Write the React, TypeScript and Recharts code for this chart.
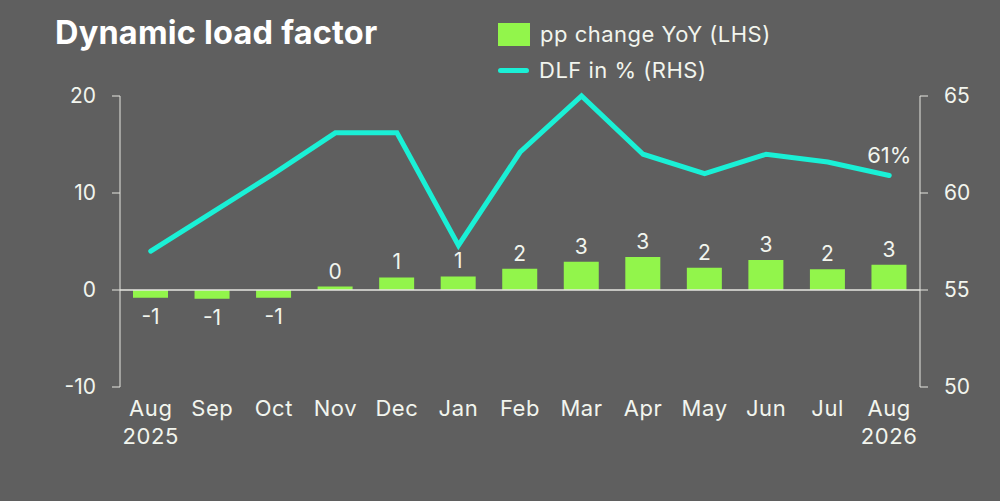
import React from 'react'
import {
  ComposedChart,
  Bar,
  Line,
  XAxis,
  YAxis,
  ReferenceLine,
  LabelList,
  Legend,
} from 'recharts'

const months = ['Aug 2025', 'Sep', 'Oct', 'Nov', 'Dec', 'Jan', 'Feb', 'Mar', 'Apr', 'May', 'Jun', 'Jul', 'Aug 2026']
const ppChange = [-0.8, -0.9, -0.8, 0.35, 1.3, 1.4, 2.2, 2.9, 3.4, 2.3, 3.1, 2.15, 2.6]
const dlf = [57.0, 59.0, 61.0, 63.1, 63.1, 57.3, 62.1, 65.0, 62.0, 61.0, 62.0, 61.6, 60.9]
const leftTicks = [-10, 0, 10, 20]
const rightTicks = [50, 55, 60, 65]

const BG = '#5f5f5f'
const GREEN = '#92f54b'
const TEAL = '#1af0d6'
const TEXT = '#f2f5ee'
const AXIS = '#e6e6e0'
const FONT = 'Inter, "Open Sans", sans-serif'

const data = months.map((m, i) => ({ month: m, pp: ppChange[i], dlf: dlf[i] }))

// eslint-disable-next-line @typescript-eslint/no-explicit-any
const MonthTick = ({ x, y, payload }: any) => {
  const [mon, year] = String(payload.value).split(' ')
  return (
    <text x={x} y={y} textAnchor="middle" fill={TEXT} fontSize={22} letterSpacing={0.6} fontFamily={FONT}>
      <tspan x={x} dy={29}>{mon}</tspan>
      {year && <tspan x={x} dy={28}>{year}</tspan>}
    </text>
  )
}

// eslint-disable-next-line @typescript-eslint/no-explicit-any
const BarLabel = ({ x, y, width, height, value }: any) => {
  const cx = x + width / 2
  const neg = value < 0
  const top = Math.min(y, y + height)
  const bottom = Math.max(y, y + height)
  return (
    <text
      x={cx}
      y={neg ? bottom + 26 : top - 8}
      textAnchor="middle"
      fill={TEXT}
      fontSize={21}
      fontFamily={FONT}
    >
      {Math.round(value)}
    </text>
  )
}

// eslint-disable-next-line @typescript-eslint/no-explicit-any
const LastLabel = ({ x, y, index, value }: any) => {
  if (index !== dlf.length - 1) return null
  return (
    <text x={x} y={y - 13} textAnchor="middle" fill={TEXT} fontSize={22} fontFamily={FONT}>
      {Math.round(value)}%
    </text>
  )
}

// bar entry first, then the line
// eslint-disable-next-line @typescript-eslint/no-explicit-any
const LegendBox = ({ payload }: any) => {
  // eslint-disable-next-line @typescript-eslint/no-explicit-any
  const items = [...(payload || [])].sort((a: any, b: any) => (a.type === 'line' ? 1 : 0) - (b.type === 'line' ? 1 : 0))
  return (
    <div style={{ fontFamily: FONT, fontSize: 22, letterSpacing: 0.5, color: TEXT }}>
      {/* eslint-disable-next-line @typescript-eslint/no-explicit-any */}
      {items.map((p: any, i: number) => (
        <div key={i} style={{ display: 'flex', alignItems: 'center', height: 36 }}>
          {p.type === 'line' ? (
            <span style={{ width: 31, height: 5, borderRadius: 3, background: p.color, marginRight: 10 }} />
          ) : (
            <span style={{ width: 32, height: 23, background: p.color, marginRight: 10 }} />
          )}
          <span>{p.value}</span>
        </div>
      ))}
    </div>
  )
}

export default function App() {
  return (
    <div
      style={{
        position: 'absolute',
        top: 0,
        left: 0,
        width: 1000,
        height: 501,
        background: BG,
        overflow: 'hidden',
      }}
    >
      <div
        style={{
          position: 'absolute',
          left: 55,
          top: 13,
          fontFamily: FONT,
          fontWeight: 700,
          fontSize: 32.5,
          color: '#ffffff',
          letterSpacing: 0.2,
          zIndex: 2,
        }}
      >
        Dynamic load factor
      </div>
      <ComposedChart
        width={1000}
        height={501}
        data={data}
        margin={{ top: 96, right: 0, bottom: 0, left: 0 }}
        barCategoryGap={0}
      >
        <XAxis
          dataKey="month"
          axisLine={false}
          tickLine={false}
          tickSize={0}
          tickMargin={0}
          height={114}
          interval={0}
          tick={<MonthTick />}
        />
        <YAxis
          yAxisId="left"
          orientation="left"
          width={120}
          domain={[-10, 20]}
          ticks={leftTicks}
          interval={0}
          stroke={AXIS}
          tickSize={8}
          tickMargin={16}
          tick={{ fill: TEXT, fontSize: 21, fontFamily: FONT }}
        />
        <YAxis
          yAxisId="right"
          orientation="right"
          width={80}
          domain={[50, 65]}
          ticks={rightTicks}
          interval={0}
          stroke={AXIS}
          tickSize={8}
          tickMargin={16}
          tick={{ fill: TEXT, fontSize: 21, fontFamily: FONT }}
        />
        <ReferenceLine yAxisId="left" y={0} stroke={AXIS} strokeWidth={1.5} />
        <Legend
          layout="vertical"
          align="center"
          verticalAlign="middle"
          wrapperStyle={{ left: 498, top: 16, width: 340 }}
          content={<LegendBox />}
        />
        <Bar
          yAxisId="left"
          dataKey="pp"
          name="pp change YoY (LHS)"
          fill={GREEN}
          barSize={35}
          legendType="rect"
          isAnimationActive={false}
        >
          <LabelList dataKey="pp" content={<BarLabel />} />
        </Bar>
        <Line
          yAxisId="right"
          dataKey="dlf"
          name="DLF in % (RHS)"
          stroke={TEAL}
          strokeWidth={5}
          strokeLinecap="round"
          dot={false}
          activeDot={false}
          legendType="line"
          isAnimationActive={false}
        >
          <LabelList dataKey="dlf" content={<LastLabel />} />
        </Line>
      </ComposedChart>
    </div>
  )
}
